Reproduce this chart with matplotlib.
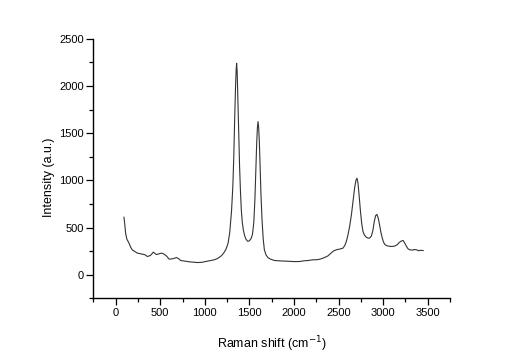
import matplotlib
matplotlib.use("Agg")
import matplotlib.pyplot as plt
from matplotlib.ticker import MultipleLocator

plt.rcParams['font.family'] = ['Liberation Sans', 'DejaVu Sans']

raman_shift = [93, 100, 112, 125, 150, 170, 187, 210, 243, 270, 300, 330, 356, 390, 423, 455,
               487, 515, 543, 570, 600, 640, 682, 705, 731, 780, 825, 870, 918, 970, 1012,
               1060, 1110, 1140, 1162, 1190, 1215, 1237, 1260, 1280, 1300, 1315, 1325, 1335,
               1345, 1352, 1357, 1363, 1370, 1380, 1390, 1400, 1410, 1420, 1432, 1445, 1460,
               1480, 1500, 1520, 1535, 1550, 1562, 1572, 1582, 1590, 1597, 1604, 1612, 1620,
               1630, 1642, 1655, 1668, 1687, 1710, 1740, 1780, 1837, 1900, 1960, 2010, 2062,
               2110, 2160, 2212, 2260, 2300, 2343, 2380, 2410, 2440, 2474, 2510, 2549, 2570,
               2587, 2605, 2624, 2645, 2662, 2680, 2695, 2707, 2718, 2730, 2745, 2760, 2774,
               2790, 2810, 2830, 2850, 2868, 2885, 2900, 2915, 2930, 2945, 2960, 2975, 2990,
               3005, 3020, 3045, 3074, 3100, 3131, 3160, 3180, 3200, 3215, 3224, 3240,
               3262, 3280, 3299, 3330, 3350, 3374, 3400, 3420, 3449]
intensity = [610, 560, 441, 380, 335, 290, 264, 250, 230, 225, 219, 212, 194, 205, 240, 215,
             222, 230, 219, 200, 166, 170, 183, 172, 151, 145, 138, 134, 130, 133, 141,
             150, 160, 172, 185, 205, 235, 270, 330, 450, 680, 950, 1250, 1650,
             2000, 2180, 2240, 2150, 1900, 1500, 1150, 880, 680, 560, 476, 420, 380,
             355, 360, 385, 430, 560, 800, 1100, 1394, 1560, 1622, 1560, 1400, 1150,
             850, 580, 380, 265, 210, 180, 165, 152, 148, 145, 142, 140, 141,
             148, 152, 159, 160, 168, 183, 200, 225, 250, 265, 272, 282, 310,
             352, 420, 511, 640, 780, 920, 1000, 1023, 970, 850, 680, 540, 460,
             420, 400, 388, 390, 410, 470, 560, 625, 640, 600, 530, 450, 390,
             345, 320, 307, 302, 300, 305, 320, 342, 355, 362, 363, 340,
             300, 275, 265, 262, 268, 265, 255, 260, 257]

x_ticks = [0, 500, 1000, 1500, 2000, 2500, 3000, 3500]
y_ticks = [0, 500, 1000, 1500, 2000, 2500]

fig = plt.figure(figsize=(5.14, 3.60), dpi=100)
ax = fig.add_axes([0.1816, 0.171, 0.8755 - 0.1816, 0.8925 - 0.171])
ax.plot(raman_shift, intensity, color='#333333', linewidth=0.8)

ax.set_xlim(-250, 3750)
ax.set_ylim(-250, 2500)
ax.set_xticks(x_ticks)
ax.set_yticks(y_ticks)
ax.xaxis.set_minor_locator(MultipleLocator(250))
ax.yaxis.set_minor_locator(MultipleLocator(250))
for s in ['top', 'right']:
    ax.spines[s].set_visible(False)
for s in ['left', 'bottom']:
    ax.spines[s].set_linewidth(1.0)
ax.tick_params(which='major', direction='out', length=5, width=0.9, labelsize=8, pad=2)
ax.tick_params(which='minor', direction='out', length=3, width=0.9)
ax.set_xlabel('Raman shift (cm$^{-1}$)', fontsize=9, labelpad=12)
ax.set_ylabel('Intensity (a.u.)', fontsize=9)
ax.yaxis.set_label_coords(-0.108, 0.467)

fig.savefig('out.png', dpi=100)
